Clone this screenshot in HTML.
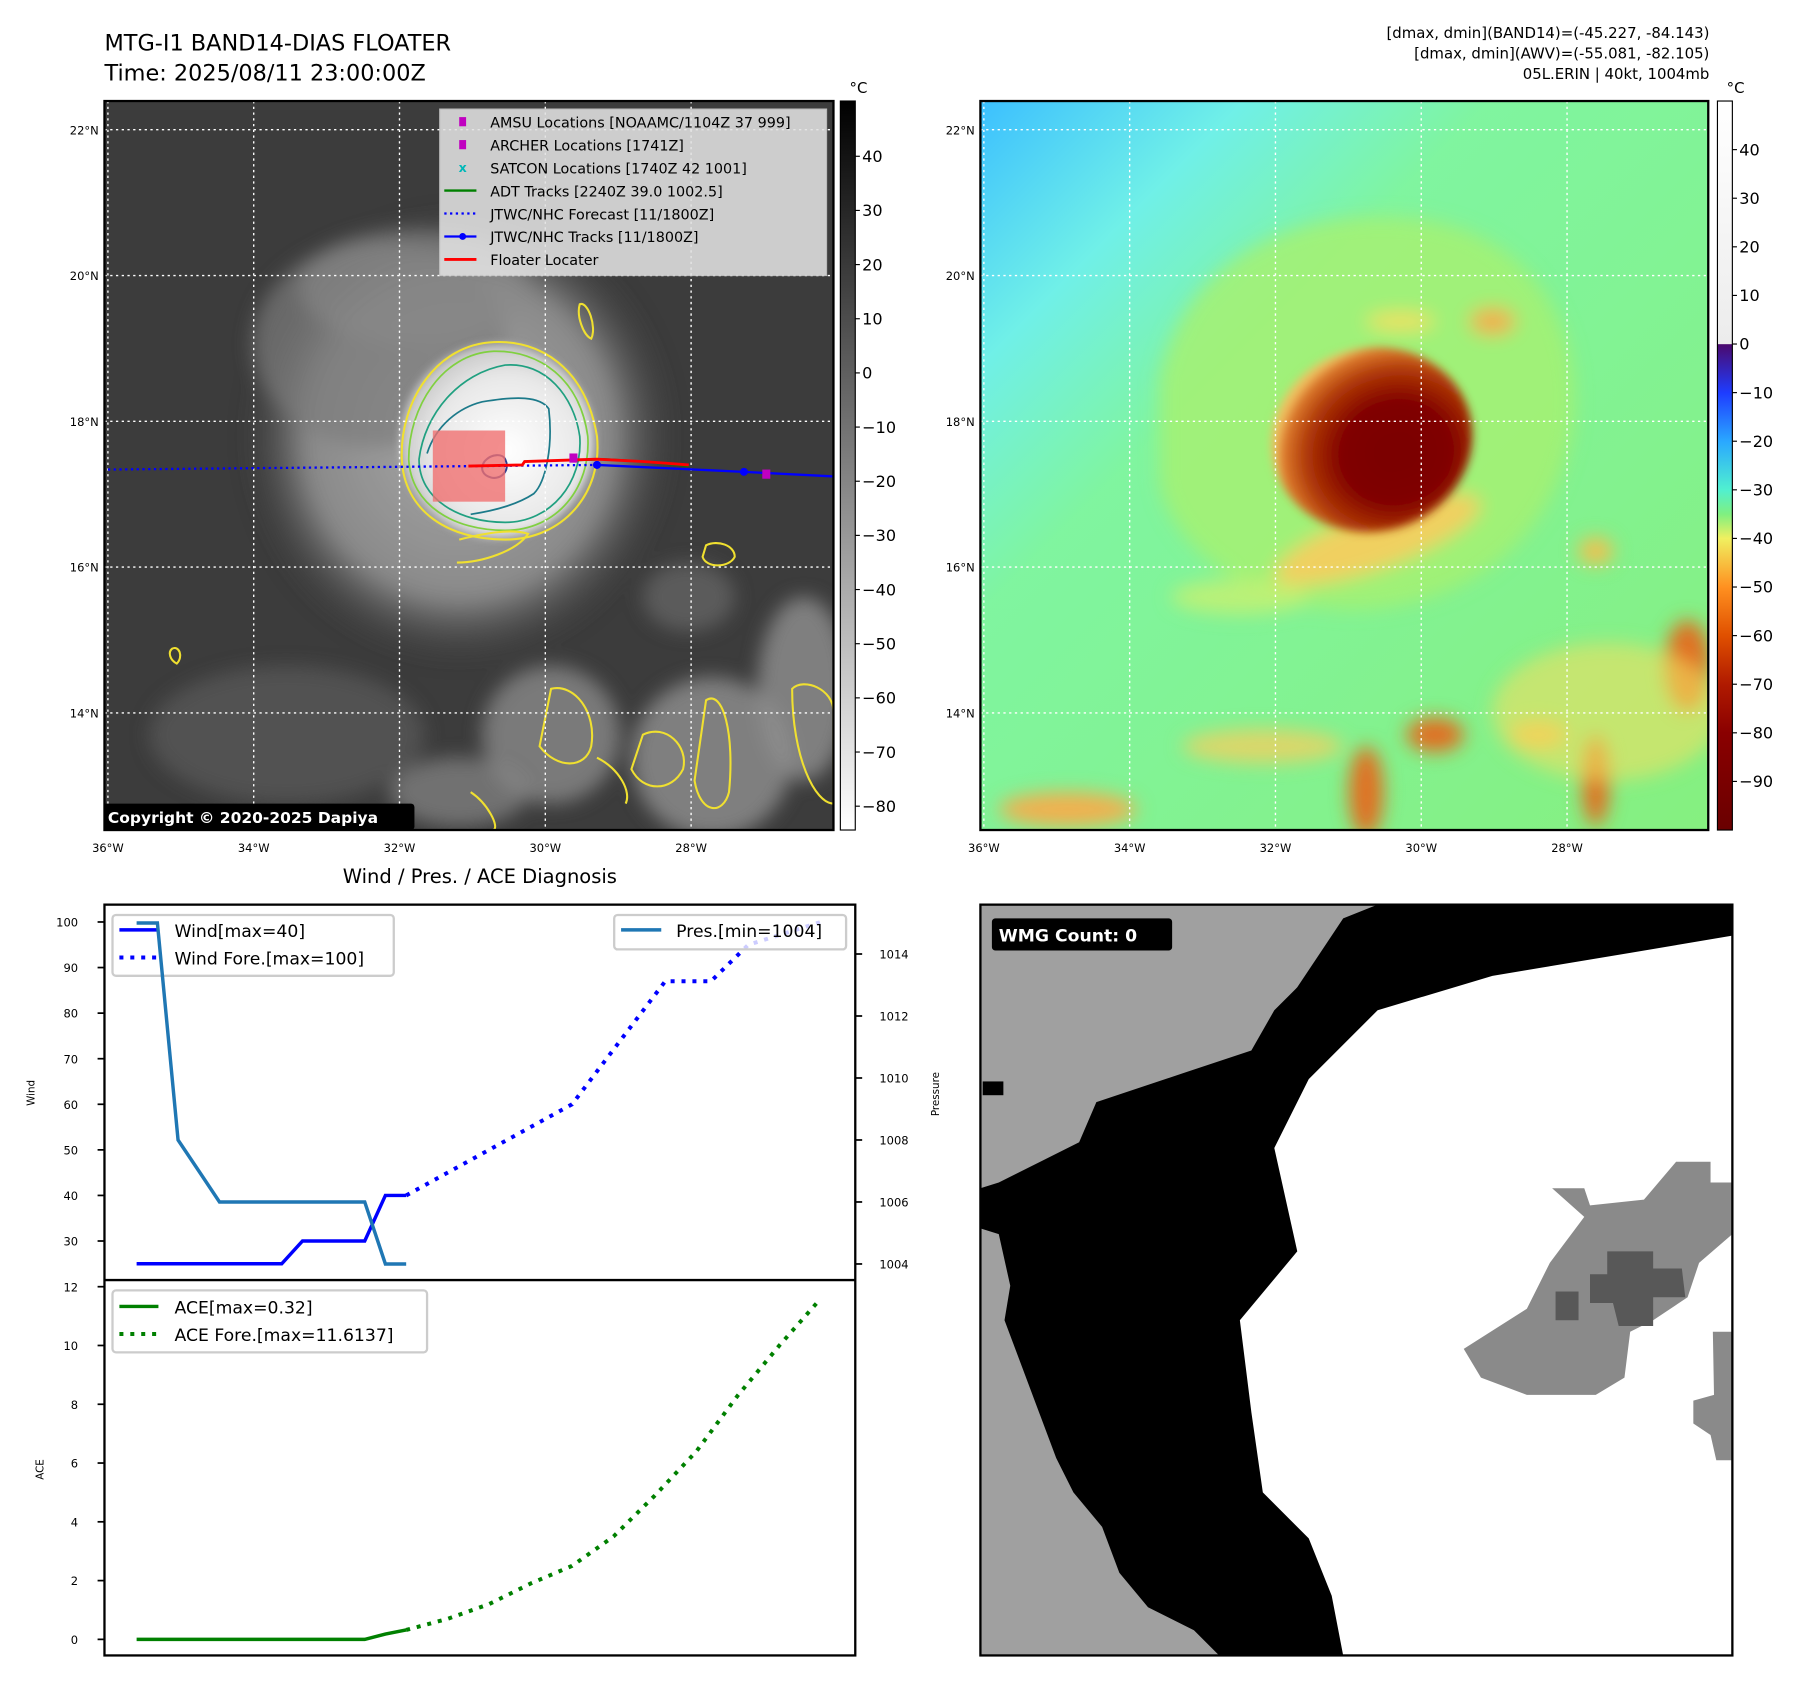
<!DOCTYPE html>
<html><head><meta charset="utf-8"><title>MTG-I1 BAND14 DIAS Floater</title>
<style>
html,body{margin:0;padding:0;background:#fff;}
svg{display:block;font-family:"DejaVu Sans","Liberation Sans",sans-serif;}
</style></head>
<body>
<svg id="fig" width="1797" height="1690" viewBox="0 0 1565.3 1472.1" preserveAspectRatio="none" xmlns="http://www.w3.org/2000/svg">
<defs>
  <linearGradient id="cbGray" x1="0" y1="0" x2="0" y2="1">
    <stop offset="0" stop-color="#000"/><stop offset="1" stop-color="#fff"/>
  </linearGradient>
  <linearGradient id="cbAwv" x1="0" y1="0" x2="0" y2="1">
    <stop offset="0" stop-color="#ffffff"/><stop offset="0.333" stop-color="#ececec"/>
    <stop offset="0.334" stop-color="#4b0a6e"/><stop offset="0.4" stop-color="#1e3cff"/>
    <stop offset="0.467" stop-color="#2aa8ff"/><stop offset="0.533" stop-color="#50f0d0"/>
    <stop offset="0.567" stop-color="#80f080"/><stop offset="0.6" stop-color="#f0f060"/>
    <stop offset="0.667" stop-color="#ff9020"/><stop offset="0.733" stop-color="#e05000"/>
    <stop offset="0.8" stop-color="#b01a00"/><stop offset="0.867" stop-color="#8a0000"/>
    <stop offset="1" stop-color="#6a0000"/>
  </linearGradient>
  <linearGradient id="awvBg" x1="0" y1="0" x2="1" y2="1">
    <stop offset="0" stop-color="#3cc0ff"/><stop offset="0.18" stop-color="#70f0e8"/>
    <stop offset="0.35" stop-color="#80f5a0"/><stop offset="1" stop-color="#86f080"/>
  </linearGradient>
  <radialGradient id="core" cx="0.6" cy="0.6" r="0.6">
    <stop offset="0" stop-color="#7a0000"/><stop offset="0.45" stop-color="#800000"/>
    <stop offset="0.75" stop-color="#b03a08"/><stop offset="0.95" stop-color="#e08030"/>
    <stop offset="1" stop-color="#f0c060"/>
  </radialGradient>
  <radialGradient id="cloud" cx="0.5" cy="0.5" r="0.5">
    <stop offset="0" stop-color="#a8a8a8"/><stop offset="0.7" stop-color="#8a8a8a"/><stop offset="1" stop-color="#444" stop-opacity="0"/>
  </radialGradient>
  <radialGradient id="cdo" cx="0.55" cy="0.55" r="0.55">
    <stop offset="0" stop-color="#ffffff"/><stop offset="0.7" stop-color="#e8e8e8"/><stop offset="1" stop-color="#c8c8c8"/>
  </radialGradient>
  <filter id="blur8"><feGaussianBlur stdDeviation="8"/></filter>
  <filter id="blur4"><feGaussianBlur stdDeviation="4"/></filter>
  <clipPath id="clipL"><rect x="91" y="88" width="635" height="635"/></clipPath>
  <clipPath id="clipR"><rect x="854" y="88" width="634" height="635"/></clipPath>
  <clipPath id="clipW"><rect x="854" y="788" width="655" height="654"/></clipPath>
</defs>

<!-- titles -->
<text x="91" y="44" font-size="19.5" fill="#000">MTG-I1 BAND14-DIAS FLOATER</text>
<text x="91" y="70" font-size="19.5" fill="#000">Time: 2025/08/11 23:00:00Z</text>
<g font-size="13" text-anchor="end" fill="#000">
  <text x="1489" y="33">[dmax, dmin](BAND14)=(-45.227, -84.143)</text>
  <text x="1489" y="51">[dmax, dmin](AWV)=(-55.081, -82.105)</text>
  <text x="1489" y="69">05L.ERIN | 40kt, 1004mb</text>
</g>

<!-- LEFT MAP -->
<g clip-path="url(#clipL)">
  <rect x="91" y="88" width="635" height="635" fill="#3c3c3c"/>
  <g filter="url(#blur8)">
    <ellipse cx="400" cy="380" rx="190" ry="200" fill="url(#cloud)"/>
    <ellipse cx="330" cy="300" rx="110" ry="90" fill="#7c7c7c" opacity="0.7"/>
    <ellipse cx="360" cy="250" rx="100" ry="50" fill="#8a8a8a" opacity="0.6"/>
    <ellipse cx="480" cy="640" rx="60" ry="60" fill="#8a8a8a" opacity="0.8"/>
    <ellipse cx="620" cy="660" rx="70" ry="70" fill="#909090" opacity="0.8"/>
    <ellipse cx="700" cy="600" rx="40" ry="80" fill="#909090" opacity="0.8"/>
    <ellipse cx="400" cy="690" rx="60" ry="30" fill="#888" opacity="0.7"/>
    <ellipse cx="250" cy="640" rx="120" ry="60" fill="#606060" opacity="0.6"/>
    <ellipse cx="600" cy="520" rx="40" ry="30" fill="#707070" opacity="0.6"/>
  </g>
  <ellipse cx="433" cy="384" rx="84" ry="84" fill="url(#cdo)" filter="url(#blur4)"/>
  <g fill="none">
    <path d="M350,400 C348,350 380,300 430,298 C470,296 510,320 520,380 C525,430 490,470 440,470 C390,470 352,445 350,400 Z" stroke="#f0e030" stroke-width="1.8"/>
    <path d="M356,400 C356,355 385,308 430,306 C470,305 505,330 512,380 C515,425 485,462 440,462 C395,462 358,440 356,400 Z" stroke="#80d040" stroke-width="1.5"/>
    <path d="M365,400 C370,360 400,325 440,318 C475,315 500,345 505,380 C508,420 480,455 440,455 C400,455 365,435 365,400 Z" stroke="#20a080" stroke-width="1.5"/>
    <path d="M372,395 C380,370 400,355 420,350 C450,345 470,345 478,356 C482,390 475,420 465,430 C450,440 430,445 410,448" stroke="#1c7a8a" stroke-width="1.5"/>
    <path d="M422,402 C428,395 438,395 440,400 C445,410 436,418 428,416 C420,414 418,408 422,402 Z" stroke="#2c3c90" stroke-width="1.8"/>
    <path d="M400,470 C420,465 445,460 460,465 C450,480 420,490 398,490" stroke="#f0e030" stroke-width="1.8"/>
    <path d="M615,475 C625,470 640,475 640,485 C635,495 615,495 612,485 Z" stroke="#f0e030" stroke-width="1.8"/>
    <path d="M480,600 C500,595 520,620 515,650 C510,670 485,670 470,650 Z" stroke="#f0e030" stroke-width="1.8"/>
    <path d="M560,640 C580,630 600,650 595,670 C585,690 560,690 550,670 Z" stroke="#f0e030" stroke-width="1.8"/>
    <path d="M615,610 C630,600 640,640 635,690 C630,710 610,710 605,680 Z" stroke="#f0e030" stroke-width="1.8"/>
    <path d="M690,600 C700,590 726,600 726,620 L726,700 C710,700 690,660 690,600 Z" stroke="#f0e030" stroke-width="1.8"/>
    <path d="M150,565 C156,562 160,572 154,578 C148,575 146,568 150,565 Z" stroke="#f0e030" stroke-width="1.8"/>
    <path d="M505,265 C512,262 520,285 515,295 C508,292 502,275 505,265 Z" stroke="#f0e030" stroke-width="1.8"/>
    <path d="M410,690 C425,700 435,720 430,723 M520,660 C540,670 550,690 545,700" stroke="#f0e030" stroke-width="1.8"/>
  </g>
  <g stroke="#fff" stroke-width="1.2" stroke-dasharray="2,3">
    <line x1="94" y1="88" x2="94" y2="723"/><line x1="221" y1="88" x2="221" y2="723"/><line x1="348" y1="88" x2="348" y2="723"/><line x1="475" y1="88" x2="475" y2="723"/><line x1="602" y1="88" x2="602" y2="723"/>
    <line x1="91" y1="113" x2="726" y2="113"/><line x1="91" y1="240" x2="726" y2="240"/><line x1="91" y1="367" x2="726" y2="367"/><line x1="91" y1="494" x2="726" y2="494"/><line x1="91" y1="621" x2="726" y2="621"/>
  </g>
  <rect x="377" y="375" width="63" height="62" fill="#f07070" opacity="0.8"/>
  <g>
    <line x1="94" y1="409" x2="520" y2="405" stroke="#0000ff" stroke-width="2" stroke-dasharray="2,3"/>
    <polyline points="500,401 525,400 560,402 600,406" stroke="#008000" stroke-width="2" fill="none"/>
    <polyline points="408,406 455,405 457,402 520,400 560,402 600,405" stroke="#ff0000" stroke-width="2.5" fill="none"/>
    <polyline points="520,405 648,411 726,415" stroke="#0000ff" stroke-width="2" fill="none"/>
    <circle cx="520" cy="405" r="3.5" fill="#0000ff"/><circle cx="648" cy="411" r="3.5" fill="#0000ff"/>
    <rect x="496" y="395" width="7" height="8" fill="#c000c0"/><rect x="664" y="409" width="7" height="8" fill="#c000c0"/>
  </g>
  <g>
    <rect x="383" y="95" width="337" height="145" fill="#e2e2e2" opacity="0.88" stroke="#ccc"/>
    <rect x="400" y="102" width="6" height="8" fill="#c000c0"/>
    <rect x="400" y="122" width="6" height="8" fill="#c000c0"/>
    <text x="403" y="150" font-size="11" fill="#00b8b8" text-anchor="middle" font-weight="bold">x</text>
    <line x1="387" y1="166" x2="415" y2="166" stroke="#008000" stroke-width="2"/>
    <line x1="387" y1="186" x2="415" y2="186" stroke="#0000ff" stroke-width="2" stroke-dasharray="2,3"/>
    <line x1="387" y1="206" x2="415" y2="206" stroke="#0000ff" stroke-width="2"/><circle cx="403" cy="206" r="3" fill="#0000ff"/>
    <line x1="387" y1="226" x2="415" y2="226" stroke="#ff0000" stroke-width="2.5"/>
    <g font-size="12.5" fill="#000">
      <text x="427" y="111">AMSU Locations [NOAAMC/1104Z 37 999]</text>
      <text x="427" y="131">ARCHER Locations [1741Z]</text>
      <text x="427" y="151">SATCON Locations [1740Z 42 1001]</text>
      <text x="427" y="171">ADT Tracks [2240Z 39.0 1002.5]</text>
      <text x="427" y="191">JTWC/NHC Forecast [11/1800Z]</text>
      <text x="427" y="211">JTWC/NHC Tracks [11/1800Z]</text>
      <text x="427" y="231">Floater Locater</text>
    </g>
  </g>
  <rect x="89" y="700" width="272" height="23" rx="3" fill="#000"/>
  <text x="94" y="717" font-size="13.5" font-weight="bold" fill="#fff">Copyright © 2020-2025 Dapiya</text>
</g>
<rect x="91" y="88" width="635" height="635" fill="none" stroke="#000" stroke-width="2"/>
<g font-size="10" text-anchor="end" fill="#000">
  <text x="86" y="117">22°N</text><text x="86" y="244">20°N</text><text x="86" y="371">18°N</text><text x="86" y="498">16°N</text><text x="86" y="625">14°N</text>
</g>
<g font-size="10" text-anchor="middle" fill="#000">
  <text x="94" y="742">36°W</text><text x="221" y="742">34°W</text><text x="348" y="742">32°W</text><text x="475" y="742">30°W</text><text x="602" y="742">28°W</text>
</g>
<rect x="732" y="88" width="13" height="635" fill="url(#cbGray)" stroke="#000" stroke-width="1"/>
<text x="740" y="81" font-size="13">°C</text>
<g id="cbL" font-size="14" fill="#000"></g>

<!-- RIGHT MAP -->
<g clip-path="url(#clipR)">
  <rect x="854" y="88" width="634" height="635" fill="url(#awvBg)"/>
  <g filter="url(#blur8)">
    <path d="M1010,330 C1030,230 1120,180 1230,190 C1330,200 1380,280 1370,370 C1360,450 1300,520 1200,530 C1100,540 1020,480 1010,420 Z" fill="#a8f070" opacity="0.8"/>
    <ellipse cx="1080" cy="520" rx="60" ry="15" fill="#c8f070" opacity="0.8"/>
    <ellipse cx="1200" cy="470" rx="95" ry="25" fill="#f0d060" transform="rotate(-20 1200 470)"/>
    <ellipse cx="1250" cy="640" rx="25" ry="15" fill="#e07020"/>
    <ellipse cx="1190" cy="690" rx="15" ry="40" fill="#e07020"/>
    <ellipse cx="1390" cy="680" rx="12" ry="40" fill="#e07020"/>
    <ellipse cx="1470" cy="580" rx="20" ry="40" fill="#e07020"/>
    <ellipse cx="1340" cy="640" rx="25" ry="12" fill="#f0c050"/>
    <ellipse cx="930" cy="705" rx="60" ry="15" fill="#f0b050"/>
    <ellipse cx="1100" cy="650" rx="70" ry="15" fill="#f0d060" opacity="0.8"/>
    <ellipse cx="1400" cy="620" rx="100" ry="60" fill="#f0e060" opacity="0.6"/>
    <ellipse cx="1390" cy="480" rx="15" ry="12" fill="#f0c050"/>
    <ellipse cx="1300" cy="280" rx="20" ry="12" fill="#f0b050"/>
    <ellipse cx="1220" cy="280" rx="30" ry="8" fill="#f0e060"/>
  </g>
  <ellipse cx="1195" cy="383" rx="88" ry="80" fill="url(#core)" transform="rotate(-15 1195 383)" filter="url(#blur4)"/>
  <g stroke="#fff" stroke-width="1.2" stroke-dasharray="2,3">
    <line x1="857" y1="88" x2="857" y2="723"/><line x1="984" y1="88" x2="984" y2="723"/><line x1="1111" y1="88" x2="1111" y2="723"/><line x1="1238" y1="88" x2="1238" y2="723"/><line x1="1365" y1="88" x2="1365" y2="723"/>
    <line x1="854" y1="113" x2="1488" y2="113"/><line x1="854" y1="240" x2="1488" y2="240"/><line x1="854" y1="367" x2="1488" y2="367"/><line x1="854" y1="494" x2="1488" y2="494"/><line x1="854" y1="621" x2="1488" y2="621"/>
  </g>
</g>
<rect x="854" y="88" width="634" height="635" fill="none" stroke="#000" stroke-width="2"/>
<g font-size="10" text-anchor="end" fill="#000">
  <text x="849" y="117">22°N</text><text x="849" y="244">20°N</text><text x="849" y="371">18°N</text><text x="849" y="498">16°N</text><text x="849" y="625">14°N</text>
</g>
<g font-size="10" text-anchor="middle" fill="#000">
  <text x="857" y="742">36°W</text><text x="984" y="742">34°W</text><text x="1111" y="742">32°W</text><text x="1238" y="742">30°W</text><text x="1365" y="742">28°W</text>
</g>
<rect x="1496" y="88" width="13" height="635" fill="url(#cbAwv)" stroke="#000" stroke-width="1"/>
<text x="1504" y="81" font-size="13">°C</text>
<g id="cbR" font-size="14" fill="#000"></g>

<!-- WIND/PRES/ACE CHART -->
<text x="418" y="769" font-size="17" text-anchor="middle">Wind / Pres. / ACE Diagnosis</text>
<g id="chartW"></g>
<g>
  <rect x="98" y="797" width="245" height="53" rx="3" fill="#fff" stroke="#ccc" stroke-width="2"/>
  <line x1="104" y1="810" x2="138" y2="810" stroke="#0000ff" stroke-width="3"/>
  <line x1="104" y1="834" x2="138" y2="834" stroke="#0000ff" stroke-width="3.5" stroke-dasharray="3.5,6"/>
  <text x="152" y="816" font-size="15">Wind[max=40]</text>
  <text x="152" y="840" font-size="15">Wind Fore.[max=100]</text>
</g>
<g>
  <rect x="98" y="1124" width="274" height="54" rx="3" fill="#fff" stroke="#ccc" stroke-width="2"/>
  <line x1="104" y1="1138" x2="138" y2="1138" stroke="#008000" stroke-width="3"/>
  <line x1="104" y1="1162" x2="138" y2="1162" stroke="#008000" stroke-width="3.5" stroke-dasharray="3.5,6"/>
  <text x="152" y="1144" font-size="15">ACE[max=0.32]</text>
  <text x="152" y="1168" font-size="15">ACE Fore.[max=11.6137]</text>
</g>
<g id="chartP"></g>
<g>
  <rect x="535" y="797" width="202" height="30" rx="3" fill="#fff" fill-opacity="0.8" stroke="#ccc" stroke-width="2"/>
  <line x1="541" y1="810" x2="576" y2="810" stroke="#1f77b4" stroke-width="3"/>
  <text x="589" y="816" font-size="15">Pres.[min=1004]</text>
</g>
<rect x="91" y="788" width="654" height="654" fill="none" stroke="#000" stroke-width="2"/>
<line x1="91" y1="1115" x2="745" y2="1115" stroke="#000" stroke-width="2"/>
<text x="30" y="952" font-size="9" text-anchor="middle" transform="rotate(-90 30 952)">Wind</text>
<text x="818" y="953" font-size="9" text-anchor="middle" transform="rotate(-90 818 953)">Pressure</text>
<text x="38" y="1280" font-size="9" text-anchor="middle" transform="rotate(-90 38 1280)">ACE</text>

<!-- WMG PANEL -->
<g clip-path="url(#clipW)">
  <rect x="854" y="788" width="655" height="654" fill="#ffffff"/>
  <polygon fill="#000" points="854,788 1509,788 1509,815 1420,830 1300,850 1200,880 1140,940 1110,1000 1130,1090 1080,1150 1090,1230 1100,1300 1140,1340 1160,1390 1170,1442 854,1442"/>
  <polygon fill="#a0a0a0" points="854,788 1200,788 1170,800 1150,830 1130,860 1110,880 1090,915 1030,935 955,960 940,995 890,1020 870,1030 854,1035"/>
  <polygon fill="#a0a0a0" points="854,1070 870,1075 880,1120 875,1150 890,1190 905,1230 920,1270 935,1300 960,1330 975,1370 1000,1400 1040,1420 1062,1442 854,1442"/>
  <polygon fill="#8a8a8a" points="1275,1175 1330,1140 1350,1100 1380,1060 1352,1035 1380,1035 1385,1050 1432,1045 1460,1012 1490,1012 1490,1030 1509,1030 1509,1075 1480,1100 1470,1130 1440,1150 1420,1160 1415,1200 1390,1215 1330,1215 1290,1200"/>
  <polygon fill="#8a8a8a" points="1492,1160 1509,1160 1509,1272 1495,1272 1490,1250 1475,1240 1475,1220 1493,1215"/>
  <polygon fill="#585858" points="1385,1110 1400,1110 1400,1090 1440,1090 1440,1105 1465,1105 1468,1130 1440,1130 1440,1155 1410,1155 1405,1135 1385,1135"/>
  <rect x="1355" y="1125" width="20" height="25" fill="#585858"/>
  <rect x="856" y="942" width="18" height="12" fill="#000"/>
</g>
<rect x="854" y="788" width="655" height="654" fill="none" stroke="#000" stroke-width="2"/>
<rect x="864" y="800" width="157" height="28" rx="3" fill="#000"/>
<text x="870" y="820" font-size="15" font-weight="bold" fill="#fff">WMG Count: 0</text>

<script>
// ---- chart data ----
var obsIdx = [0,1,2,3,4,5,6,7,8,9,10,11,12,13];
var windObs = [25,25,25,25,25,25,25,25,30,30,30,30,40,40];
var presObs = [1015,1015,1008,1007,1006,1006,1006,1006,1006,1006,1006,1006,1004,1004];
var aceObs = [0,0,0,0,0,0,0,0,0,0,0,0,0.18,0.32];
var foreIdx = [13,21,25.5,27.7,29.5,33];
var windFore = [40,60,87,87,95,100];
var aceForeIdx = [13,15,17,19,21,23,25,27,29,31,33];
var aceFore = [0.32,0.7,1.2,1.9,2.5,3.5,4.9,6.4,8.3,10.0,11.6];
var windTicks = [30,40,50,60,70,80,90,100];
var presTicks = [1004,1006,1008,1010,1012,1014];
var aceTicks = [0,2,4,6,8,10,12];
var irTicks = [40,30,20,10,0,-10,-20,-30,-40,-50,-60,-70,-80];
var awvTicks = [40,30,20,10,0,-10,-20,-30,-40,-50,-60,-70,-80,-90];

var NS = 'http://www.w3.org/2000/svg';
function X(i){ return 119 + i*18.06; }
function WY(w){ return 1081 - (w-30)*3.97; }
function PY(p){ return 1101 - (p-1004)*27; }
function AY(a){ return 1428 - a*25.6; }
function irY(v){ return 88 + (50.2 - v)/134.6*635; }
function awvY(v){ return 88 + (50 - v)/150*635; }
function mk(tag, attrs, parent){ var e=document.createElementNS(NS,tag); for(var k in attrs) e.setAttribute(k, attrs[k]); parent.appendChild(e); return e; }
function pts(xs, ys, fy){ return xs.map(function(x,i){ return X(x).toFixed(1)+','+fy(ys[i]).toFixed(1); }).join(' '); }

var chart = document.getElementById('chartW');
var chartP = document.getElementById('chartP');
var pl;
pl = mk('polyline', {points: pts(obsIdx, windObs, WY), fill:'none', stroke:'#0000ff', 'stroke-width':3}, chart);


pl = mk('polyline', {points: pts(foreIdx, windFore, WY), fill:'none', stroke:'#0000ff', 'stroke-width':3.5, 'stroke-dasharray':'3.5,6'}, chart);


pl = mk('polyline', {points: pts(obsIdx, aceObs, AY), fill:'none', stroke:'#008000', 'stroke-width':3}, chart);


pl = mk('polyline', {points: pts(aceForeIdx, aceFore, AY), fill:'none', stroke:'#008000', 'stroke-width':3.5, 'stroke-dasharray':'3.5,6'}, chart);


pl = mk('polyline', {points: pts(obsIdx, presObs, PY), fill:'none', stroke:'#1f77b4', 'stroke-width':3}, chartP);



windTicks.forEach(function(v){
  var y = WY(v);
  var t = mk('line', {x1:85, x2:91, y1:y, y2:y, stroke:'#000', 'stroke-width':1.5}, chart);
  
  
  var l = mk('text', {x:68, y:y+4, 'font-size':10, 'text-anchor':'end'}, chart);
  l.textContent = v;
  
  
});
presTicks.forEach(function(v){
  var y = PY(v);
  var t = mk('line', {x1:745, x2:751, y1:y, y2:y, stroke:'#000', 'stroke-width':1.5}, chartP);
  
  
  var l = mk('text', {x:766, y:y+4, 'font-size':10}, chartP);
  l.textContent = v;
  
  
});
aceTicks.forEach(function(v){
  var y = AY(v);
  var t = mk('line', {x1:85, x2:91, y1:y, y2:y, stroke:'#000', 'stroke-width':1.5}, chart);
  
  
  var l = mk('text', {x:68, y:y+4, 'font-size':10, 'text-anchor':'end'}, chart);
  l.textContent = v;
  
  
});
var cbL = document.getElementById('cbL');
irTicks.forEach(function(v){
  var y = irY(v);
  var t = mk('line', {x1:745, x2:749, y1:y, y2:y, stroke:'#000'}, cbL);
  
  
  var l = mk('text', {x:751, y:y+5}, cbL);
  l.textContent = v < 0 ? '\u2212' + (-v) : v;
  
  
});
var cbR = document.getElementById('cbR');
awvTicks.forEach(function(v){
  var y = awvY(v);
  var t = mk('line', {x1:1509, x2:1513, y1:y, y2:y, stroke:'#000'}, cbR);
  
  
  var l = mk('text', {x:1515, y:y+5}, cbR);
  l.textContent = v < 0 ? '\u2212' + (-v) : v;
  
  
});
</script>
</svg>
</body></html>
